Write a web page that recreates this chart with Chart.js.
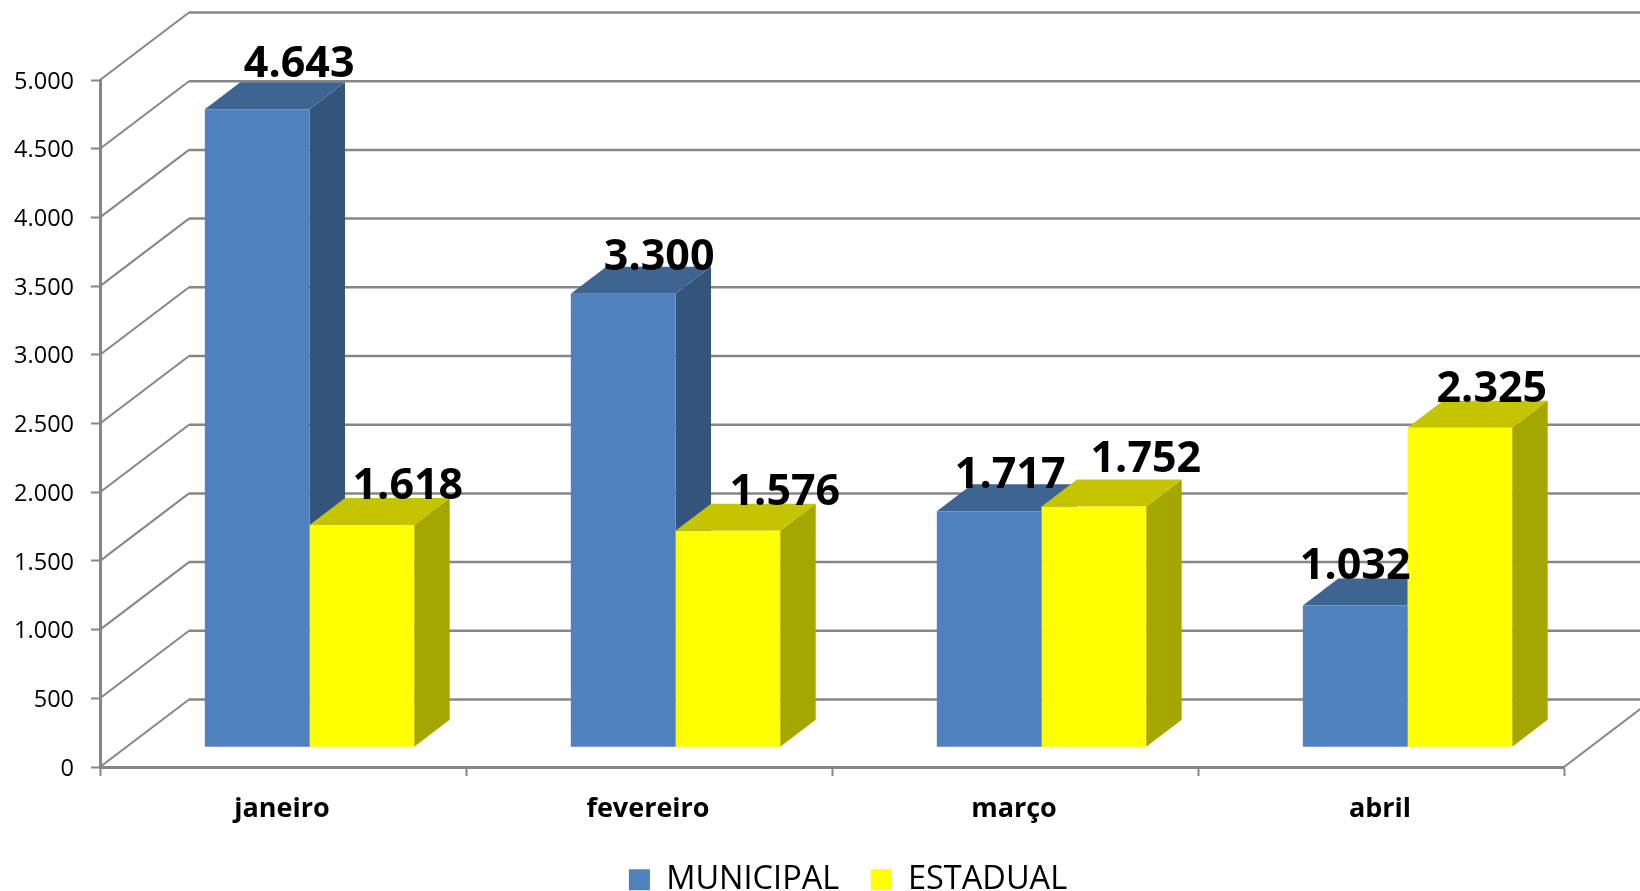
<!DOCTYPE html>
<html>
<head>
<meta charset="utf-8">
<title>Municipal x Estadual</title>
<script src="https://cdn.jsdelivr.net/npm/chart.js@4"></script>
<style>
    body { margin: 0; background: #fff; }
    canvas { display: block; }
</style>
</head>
<body>
<canvas id="chartDivId" width="1640" height="891"></canvas>
<script>
const months = ['janeiro', 'fevereiro', 'março', 'abril'];
const municipal = [4643, 3300, 1717, 1032];
const estadual = [1618, 1576, 1752, 2325];
const municipalLabels = ['4.643', '3.300', '1.717', '1.032'];
const estadualLabels = ['1.618', '1.576', '1.752', '2.325'];
const yTickLabels = ['0', '500', '1.000', '1.500', '2.000', '2.500', '3.000', '3.500', '4.000', '4.500', '5.000'];

const gridColor = '#868686';
const fontName = '"Open Sans"';

// the fake 3d: how far the back wall and the bars sit from the axis plane
const wallDepth = { x: 89, y: -67.5 };
const barShift = { x: 26.5, y: -19.8 };
const barDepth = { x: 35.5, y: -27 };

// side and top colours of each series
const sideColors = ['#34547C', '#A6A600'];
const topColors = ['#3E6492', '#C4C400'];

// labels were moved by hand in the original, so each one has its own nudge
const labelNudgeX = [[42, 36, 21, 0], [46, 57, 52, 32]];
const labelNudgeY = [[-32, -24, -23, -26], [-26, -26, -34, -26]];

function fillPoly(ctx, color, points) {
    ctx.fillStyle = color;
    ctx.beginPath();
    points.forEach(function (p, i) {
        if (i === 0) ctx.moveTo(p[0], p[1]);
        else ctx.lineTo(p[0], p[1]);
    });
    ctx.closePath();
    ctx.fill();
}

const fake3d = {
    id: 'fake3d',
    afterLayout: function (chart) {
        // legend sits right of centre in the original
        let legend = chart.legend;
        legend.left += 66;
        legend.right += 66;
        legend.top = 832;
        legend.bottom = 891;
        // tick labels get clipped to the scale box, j and ç need the room
        chart.scales.x.bottom = 845;
    },
    beforeDatasetsDraw: function (chart) {
        let ctx = chart.ctx;
        let yScale = chart.scales.y;
        let area = chart.chartArea;

        // back wall and side wall grid
        ctx.save();
        ctx.strokeStyle = gridColor;
        yScale.ticks.forEach(function (tick, i) {
            let y = yScale.getPixelForTick(i);
            ctx.lineWidth = 2;
            ctx.beginPath();
            ctx.moveTo(area.left, y);
            ctx.lineTo(area.left + wallDepth.x, y + wallDepth.y);
            ctx.stroke();
            ctx.lineWidth = 2.5;
            ctx.beginPath();
            ctx.moveTo(area.left + wallDepth.x, y + wallDepth.y);
            ctx.lineTo(chart.width, y + wallDepth.y);
            ctx.stroke();
        });
        // floor edge on the right
        ctx.lineWidth = 2;
        ctx.beginPath();
        ctx.moveTo(area.right, area.bottom);
        ctx.lineTo(area.right + wallDepth.x, area.bottom + wallDepth.y);
        ctx.stroke();
        ctx.restore();

        // side and top faces, the fronts are the real bars drawn after this
        ctx.save();
        ctx.translate(barShift.x, barShift.y);
        [0, 1].forEach(function (d) {
            chart.getDatasetMeta(d).data.forEach(function (bar) {
                let l = bar.x - bar.width / 2;
                let r = bar.x + bar.width / 2;
                let dx = barDepth.x;
                let dy = barDepth.y;
                fillPoly(ctx, sideColors[d], [[r, bar.y], [r + dx, bar.y + dy], [r + dx, bar.base + dy], [r, bar.base]]);
                fillPoly(ctx, topColors[d], [[l, bar.y], [l + dx, bar.y + dy], [r + dx, bar.y + dy], [r, bar.y]]);
            });
        });
        ctx.restore();

        ctx.save();
        ctx.translate(barShift.x, barShift.y);
    },
    afterDatasetsDraw: function (chart) {
        let ctx = chart.ctx;
        ctx.restore();

        ctx.save();
        ctx.fillStyle = '#000';
        ctx.font = 'bold 43px ' + fontName;
        ctx.textAlign = 'center';
        ctx.textBaseline = 'alphabetic';
        [municipalLabels, estadualLabels].forEach(function (labels, d) {
            chart.getDatasetMeta(d).data.forEach(function (bar, i) {
                let x = bar.x + barShift.x + labelNudgeX[d][i];
                let y = bar.y + barShift.y + labelNudgeY[d][i];
                ctx.fillText(labels[i], x, y);
            });
        });
        ctx.restore();
    }
};

new Chart(document.getElementById('chartDivId'), {
    type: 'bar',
    data: {
        labels: months,
        datasets: [
            { label: 'MUNICIPAL', data: municipal, backgroundColor: '#4F81BD', clip: false },
            { label: 'ESTADUAL', data: estadual, backgroundColor: '#FFFF00', clip: false }
        ]
    },
    plugins: [fake3d],
    options: {
        responsive: false,
        animation: false,
        categoryPercentage: 0.572,
        barPercentage: 1,
        layout: {
            padding: { top: 80, right: 76, left: 0, bottom: 0 }
        },
        plugins: {
            title: { display: false },
            tooltip: { enabled: false },
            legend: {
                position: 'bottom',
                labels: {
                    boxWidth: 21,
                    boxHeight: 21,
                    padding: 31.5,
                    color: '#000',
                    font: { family: fontName, size: 32.5 }
                }
            }
        },
        scales: {
            x: {
                afterFit: function (scale) { scale.height = 50; },
                border: { color: gridColor, width: 3 },
                grid: { drawOnChartArea: false, color: gridColor, tickLength: 9, tickWidth: 2 },
                ticks: { color: '#000', padding: 17, labelOffset: -1, font: { family: fontName, size: 27, weight: 'bold' } }
            },
            y: {
                min: 0,
                max: 5000,
                afterFit: function (scale) { scale.width = 100; },
                border: { color: gridColor, width: 3 },
                grid: { drawOnChartArea: false, color: gridColor, tickLength: 9, tickWidth: 2 },
                ticks: {
                    stepSize: 500,
                    color: '#000',
                    padding: 17,
                    labelOffset: 2,
                    font: { family: fontName, size: 23.5 },
                    callback: function (value, index) { return yTickLabels[index]; }
                }
            }
        }
    }
});
</script>
</body>
</html>
